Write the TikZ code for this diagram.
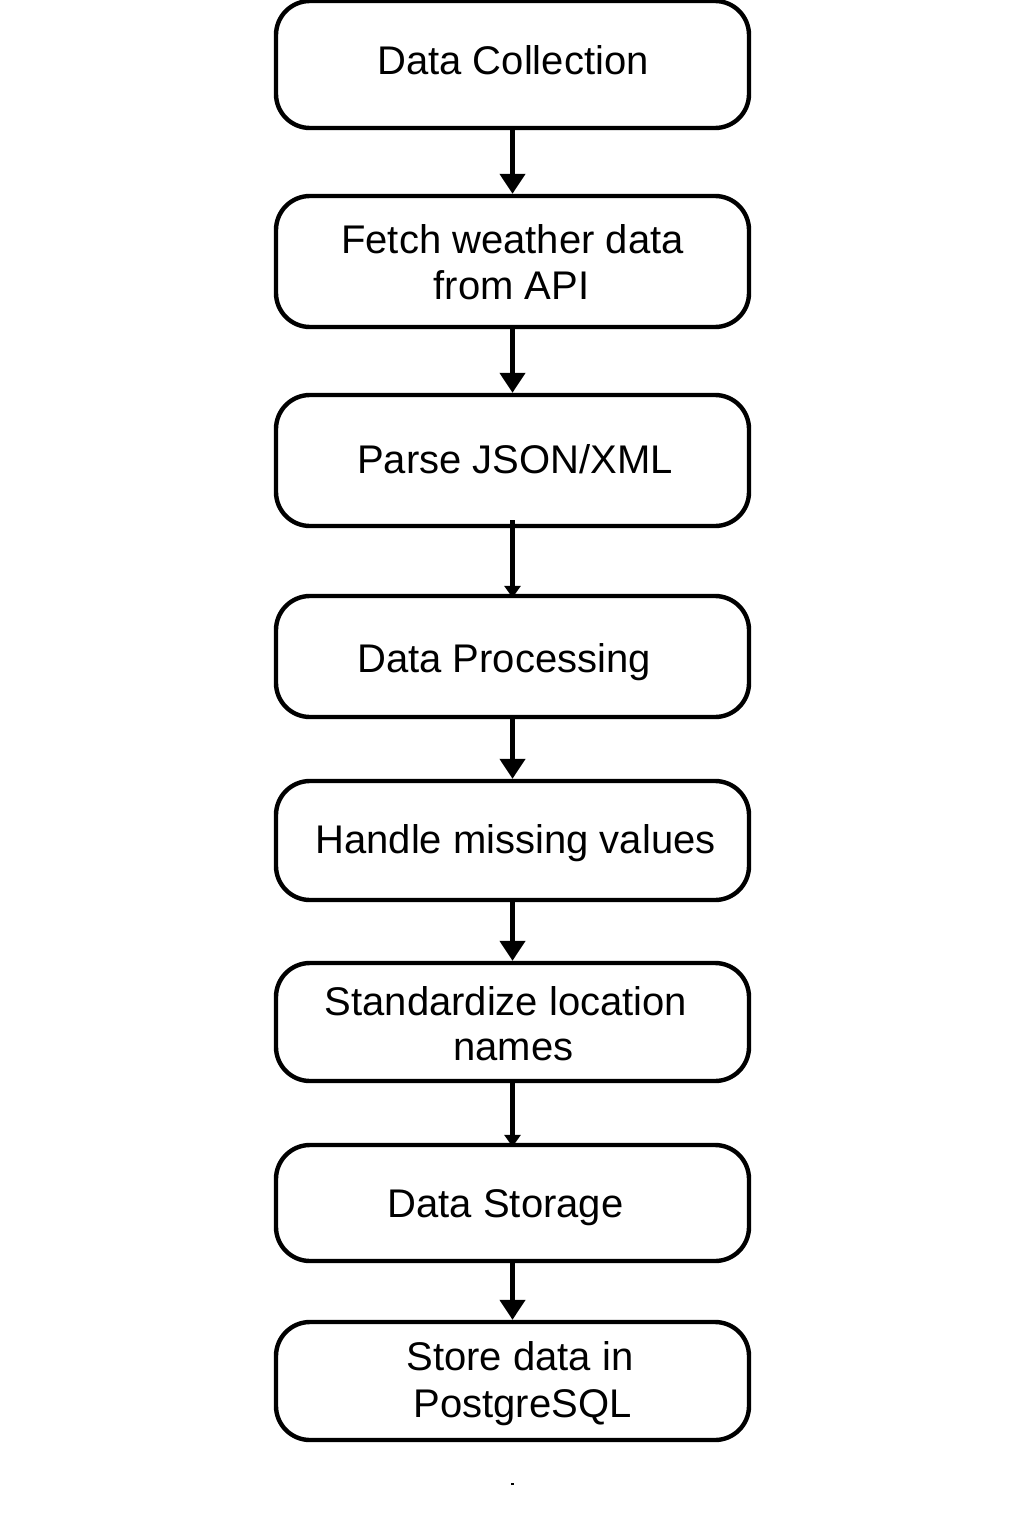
\documentclass[tikz,border=0pt]{standalone}
\usepackage{fontspec}
\setmainfont{Liberation Sans}
\usetikzlibrary{arrows.meta}
\tikzset{
  stepbox/.style={draw, line width=2.2pt, rounded corners=17pt, inner sep=0pt, minimum width=236.5pt},
  lbl/.style={anchor=base, inner sep=0pt, font=\fontsize{20}{23}\selectfont},
  arr/.style={draw, line width=2.2pt, -{Triangle[width=12.5pt,length=10pt]}},
  smallarr/.style={draw, line width=2.2pt, -{Triangle[width=8pt,length=6pt]}}
}
\begin{document}
\begin{tikzpicture}[x=0.5pt, y=-0.5pt]
\useasboundingbox (0,0) rectangle (1024,1536);
% boxes
\node[stepbox, minimum height=63.5pt] (b1) at (512.5,64.5) {};
\node[stepbox, minimum height=65.5pt] (b2) at (512.5,261.5) {};
\node[stepbox, minimum height=65.5pt] (b3) at (512.5,460.5) {};
\node[stepbox, minimum height=60.5pt] (b4) at (512.5,656.5) {};
\node[stepbox, minimum height=59.5pt] (b5) at (512.5,840.5) {};
\node[stepbox, minimum height=59pt] (b6) at (512.5,1022) {};
\node[stepbox, minimum height=58pt] (b7) at (512.5,1203) {};
\node[stepbox, minimum height=59pt] (b8) at (512.5,1381) {};
% labels
\node[lbl] (t1) at (513,75) {Data Collection};
\node[lbl] (t2a) at (512.5,253) {Fetch weather data};
\node[lbl] (t2b) at (511.5,299) {from API};
\node[lbl] (t3) at (515,473) {Parse JSON/XML};
\node[lbl] (t4) at (504,672) {Data Processing};
\node[lbl] (t5) at (515.5,853) {Handle missing values};
\node[lbl] (t6a) at (506,1015) {Standardize location};
\node[lbl] (t6b) at (513.5,1060) {names};
\node[lbl] (t7) at (505.5,1217) {Data Storage};
\node[lbl] (t8a) at (520,1370) {Store data in};
\node[lbl] (t8b) at (522.5,1417) {PostgreSQL};
% connectors
\draw[arr] (b1.south) -- (b2.north);
\draw[arr] (b2.south) -- (b3.north);
\draw[smallarr] ([yshift=4pt]b3.south) -- ([yshift=-2pt]b4.north);
\draw[arr] (b4.south) -- (b5.north);
\draw[arr] (b5.south) -- (b6.north);
\draw[smallarr] (b6.south) -- ([yshift=-2pt]b7.north);
\draw[arr] (b7.south) -- (b8.north);
% stray dot
\node[fill, inner sep=0pt, minimum width=1.5pt, minimum height=1pt] (dot) at (512.5,1484) {};
\end{tikzpicture}
\end{document}
